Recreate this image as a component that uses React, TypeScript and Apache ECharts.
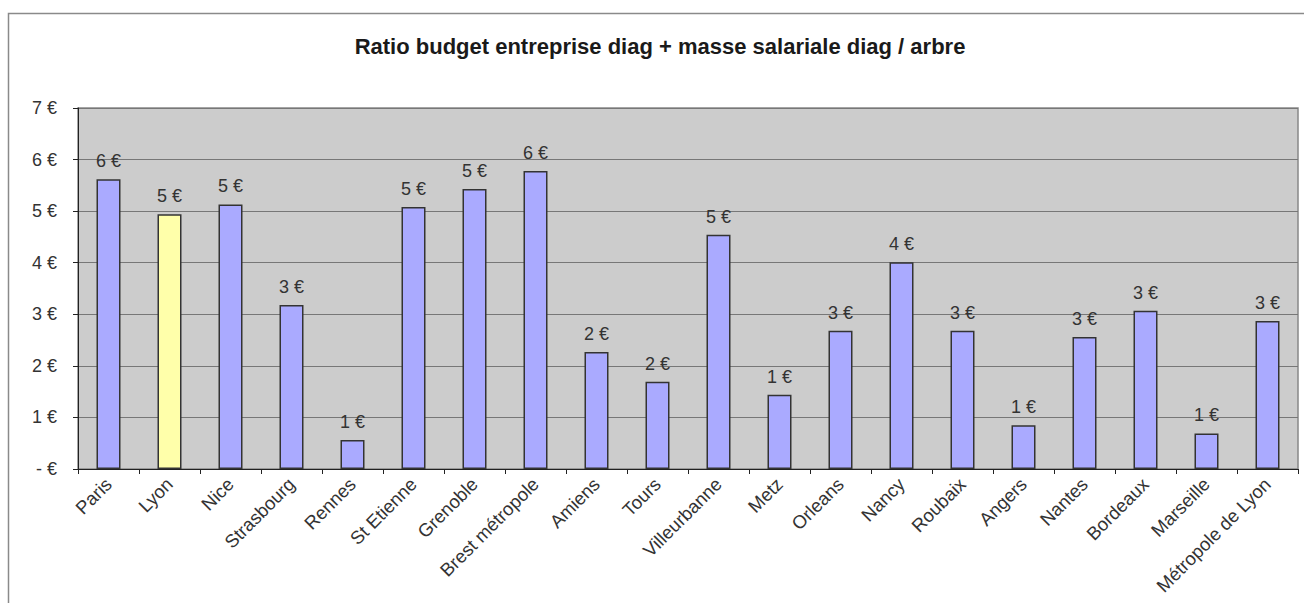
import React, { useEffect, useRef } from "react";
import * as echarts from "echarts";

const title = "Ratio budget entreprise diag + masse salariale diag / arbre";
const cities = [
  "Paris", "Lyon", "Nice", "Strasbourg", "Rennes", "St Etienne", "Grenoble",
  "Brest métropole", "Amiens", "Tours", "Villeurbanne", "Metz", "Orleans",
  "Nancy", "Roubaix", "Angers", "Nantes", "Bordeaux", "Marseille", "Métropole de Lyon",
];
const ratios = [
  5.62, 4.94, 5.13, 3.18, 0.56, 5.08, 5.43, 5.78, 2.27, 1.69, 4.54, 1.44, 2.68,
  4.01, 2.68, 0.85, 2.56, 3.07, 0.69, 2.87,
];
const highlighted = ["Lyon"];
const yTicks = [0, 1, 2, 3, 4, 5, 6, 7];

export default function App() {
  const ref = useRef<HTMLDivElement>(null);
  useEffect(() => {
    if (!ref.current) return;
    const chart = echarts.init(ref.current, null, { renderer: "svg" });
    const font = "Liberation Sans, Arial, sans-serif";
    chart.setOption({
      animation: false,
      textStyle: { fontFamily: font },
      title: {
        text: title,
        left: 655,
        textAlign: "center",
        top: 30,
        textStyle: { fontSize: 22, fontWeight: "bold", color: "#1a1a1a", fontFamily: font },
      },
      graphic: [
        {
          type: "rect",
          shape: { x: 8.5, y: 13.5, width: 1310, height: 700 },
          style: { fill: "none", stroke: "#8a8a8a", lineWidth: 1.5 },
          silent: true,
          z: -1,
        },
      ],
      grid: {
        left: 78,
        right: 6,
        top: 108,
        height: 361,
        show: true,
        backgroundColor: "#cccccc",
        borderColor: "#888888",
        borderWidth: 1.5,
      },
      xAxis: {
        type: "category",
        data: cities,
        boundaryGap: true,
        axisLine: { lineStyle: { color: "#222", width: 1 } },
        axisTick: { show: true, length: 5, alignWithLabel: false, lineStyle: { color: "#222" } },
        axisLabel: {
          rotate: 45,
          interval: 0,
          color: "#333",
          fontSize: 18.5,
          fontFamily: font,
          margin: 12,
        },
      },
      yAxis: {
        type: "value",
        min: 0,
        max: yTicks[yTicks.length - 1],
        interval: 1,
        axisLine: { show: true, lineStyle: { color: "#222", width: 1 } },
        axisTick: { show: true, length: 5, lineStyle: { color: "#222" } },
        splitLine: { show: true, lineStyle: { color: "#777777", width: 1 } },
        axisLabel: {
          color: "#333",
          fontSize: 18,
          fontFamily: font,
          margin: 21,
          formatter: (v: number) => (v === 0 ? "- €" : `${v} €`),
        },
      },
      series: [
        {
          type: "bar",
          barWidth: 24,
          data: cities.map((c, i) => ({
            value: ratios[i],
            itemStyle: {
              color: highlighted.includes(c) ? "#ffffaa" : "#aaaaff",
              borderColor: "#333",
              borderWidth: 1.5,
            },
          })),
          label: {
            show: true,
            position: "top",
            distance: 9,
            color: "#333",
            fontSize: 18,
            fontFamily: font,
            formatter: (p: any) => `${Math.round(p.value)} €`,
          },
        },
      ],
    });
    return () => chart.dispose();
  }, []);
  return (
    <div
      ref={ref}
      style={{ position: "absolute", left: 0, top: 0, width: 1304, height: 603, background: "#fff" }}
    />
  );
}
